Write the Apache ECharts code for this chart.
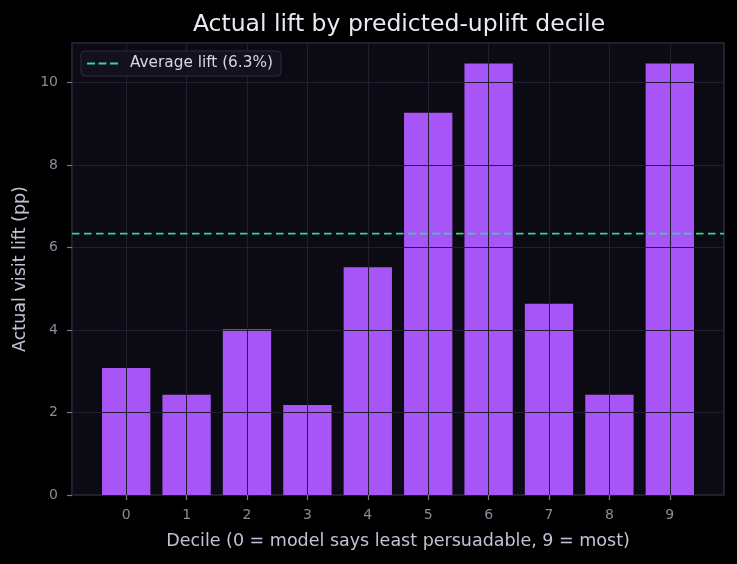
<!DOCTYPE html>
<html>
<head>
<meta charset="utf-8">
<script src="https://cdn.jsdelivr.net/npm/echarts@6/dist/echarts.min.js"></script>
<style>
  html, body { margin: 0; padding: 0; background: #000000; }
  #chart { width: 737px; height: 564px; }
</style>
</head>
<body>
<div id="chart"></div>
<script>
var deciles = [0, 1, 2, 3, 4, 5, 6, 7, 8, 9];
var lift = [3.08, 2.43, 4.02, 2.18, 5.52, 9.27, 10.46, 4.64, 2.43, 10.46];
var avgLift = 6.34;
var avgLabel = 'Average lift (6.3%)';
var yTicks = [0, 2, 4, 6, 8, 10];

var font = 'DejaVu Sans';
var chart = echarts.init(document.getElementById('chart'));

var barData = deciles.map(function (d, i) { return [d, lift[i]]; });
// matplotlib-like margins around the bars
var xMin = -0.897, xMax = 9.897;

var option = {
  backgroundColor: '#000000',
  animation: false,
  textStyle: { fontFamily: font },
  title: {
    text: 'Actual lift by predicted-uplift decile',
    left: 394,
    top: 8,
    textAlign: 'center',
    textStyle: { color: '#ebe9f3', fontSize: 23.5, fontWeight: 'normal', fontFamily: font }
  },
  legend: {
    left: 81,
    top: 51,
    padding: [5, 8, 5, 6],
    backgroundColor: '#14111e',
    borderColor: '#2f2a45',
    borderWidth: 1,
    borderRadius: 4,
    itemWidth: 31,
    itemHeight: 2.5,
    icon: 'path://M0,0h8v2h-8z M11.5,0h8v2h-8z M23,0h8v2h-8z',
    formatter: function (name) { return '{t|' + name + '}'; },
    textStyle: {
      color: '#d8d6e4', fontSize: 15.3, fontFamily: font,
      rich: { t: { fontSize: 15.3, fontFamily: font, color: '#d8d6e4', padding: [0, 0, 0, 7], lineHeight: 18 } }
    },
    data: [avgLabel]
  },
  grid: {
    left: 72, right: 13, top: 43, bottom: 69,
    show: true,
    backgroundColor: '#0c0a13',
    borderColor: '#2c283f',
    borderWidth: 1.5
  },
  xAxis: {
    type: 'value',
    min: xMin,
    max: xMax,
    minInterval: 1,
    maxInterval: 1,
    z: 3,
    name: 'Decile (0 = model says least persuadable, 9 = most)',
    nameLocation: 'middle',
    nameGap: 37,
    nameTextStyle: { color: '#c4c1d6', fontSize: 17.5, fontFamily: font },
    axisLine: { show: false },
    axisTick: { show: true, length: 5, lineStyle: { color: '#7a7790', width: 1.2 } },
    axisLabel: {
      color: '#8c899f', fontSize: 14, margin: 13, fontFamily: font,
      showMinLabel: false, showMaxLabel: false
    },
    splitLine: { show: true, lineStyle: { color: '#221d33', width: 1 } }
  },
  yAxis: {
    type: 'value',
    min: 0,
    max: 10.96,
    interval: 2,
    z: 3,
    name: 'Actual visit lift (pp)',
    nameLocation: 'middle',
    nameGap: 38,
    nameTextStyle: { color: '#c4c1d6', fontSize: 17.5, fontFamily: font },
    axisLine: { show: false, onZero: false },
    axisTick: { show: true, length: 5, lineStyle: { color: '#7a7790', width: 1.2 } },
    axisLabel: {
      color: '#8c899f', fontSize: 14, margin: 14, fontFamily: font,
      showMaxLabel: false,
      formatter: function (v) { return yTicks.indexOf(v) >= 0 ? String(v) : ''; }
    },
    splitLine: { show: true, lineStyle: { color: '#221d33', width: 1 } }
  },
  series: [
    {
      name: 'lift',
      type: 'bar',
      data: barData,
      barWidth: '80%',
      itemStyle: { color: '#a855f7' },
      z: 2
    },
    {
      name: avgLabel,
      type: 'line',
      data: [[xMin, avgLift], [xMax, avgLift]],
      symbol: 'none',
      z: 5,
      lineStyle: { color: '#34d399', width: 1.8, type: [7.5, 4.5] },
      itemStyle: { color: '#34d399' }
    }
  ]
};

chart.setOption(option);
</script>
</body>
</html>
